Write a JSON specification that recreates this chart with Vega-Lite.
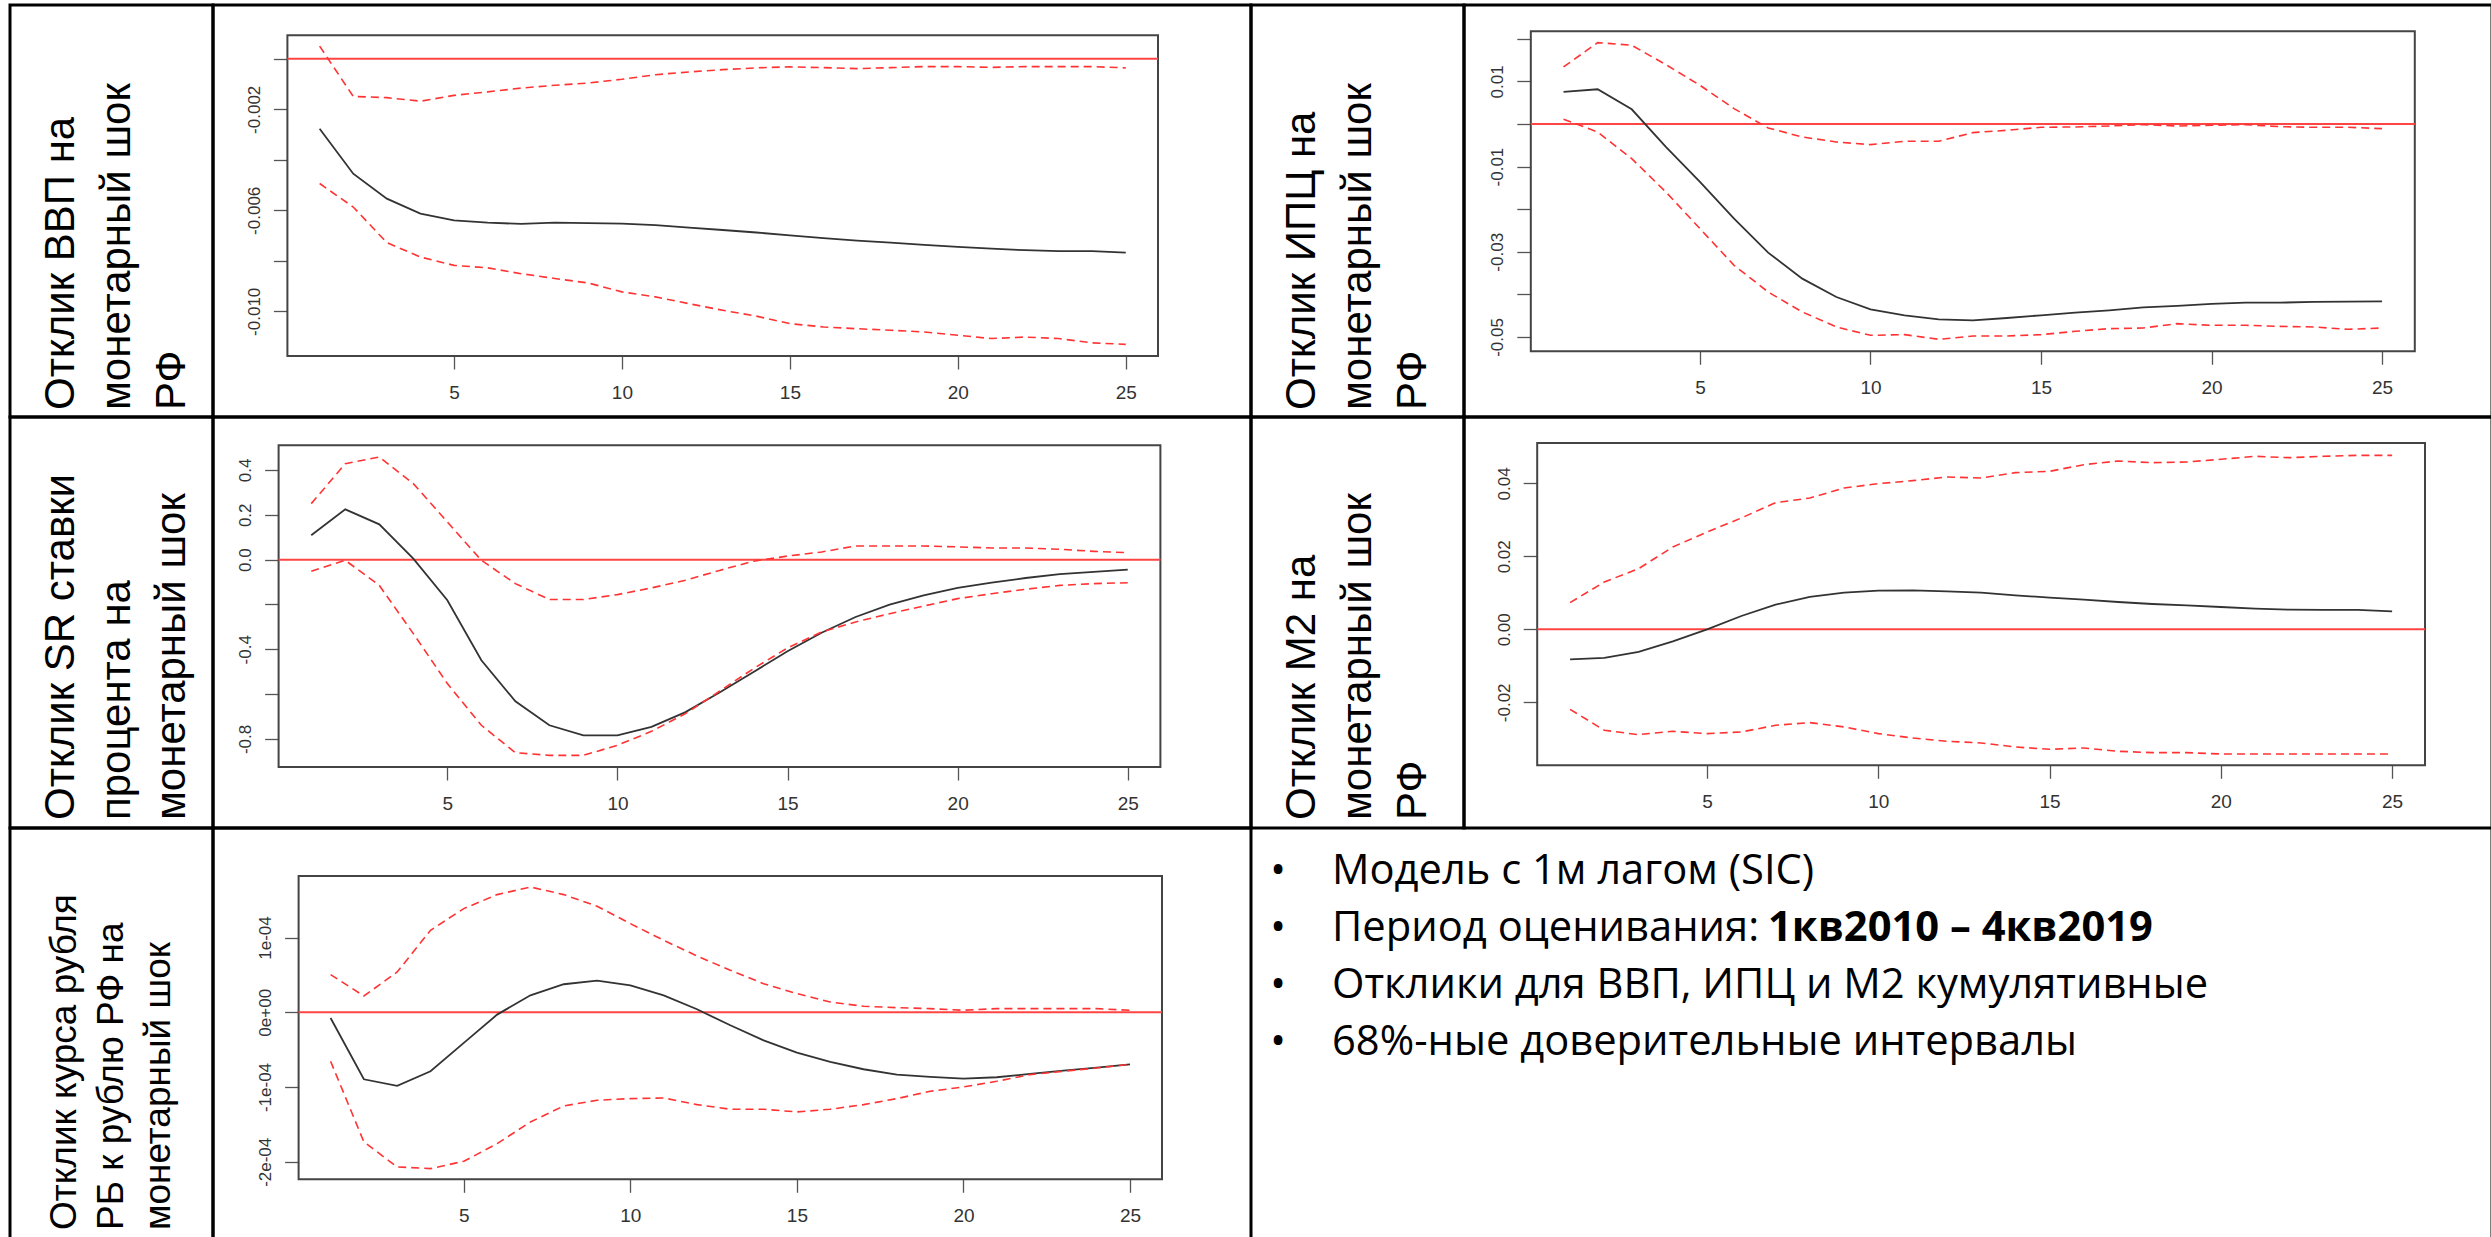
{
  "$schema": "https://vega.github.io/schema/vega-lite/v6.json",
  "padding": {"left": 8, "top": 3, "right": 1, "bottom": 0},
  "bounds": "flush",
  "spacing": 0,
  "columns": 4,
  "background": "#ffffff",
  "config": {
    "view": {"stroke": "#000000", "strokeWidth": 3},
    "axis": {"grid": false, "domain": false, "labelFont": "Liberation Sans", "labelColor": "#333333", "tickColor": "#555555", "tickWidth": 1.3, "labelOverlap": false, "labelFlush": false}
  },
  "resolve": {"scale": {"x": "independent", "y": "independent"}, "axis": {"x": "independent", "y": "independent"}},
  "concat": [
    {
      "width": 203, "height": 412,
      "data": {"values": [{"line": 1, "text": "Отклик ВВП на"}, {"line": 2, "text": "монетарный шок"}, {"line": 3, "text": "РФ"}]},
      "mark": {"type": "text", "angle": 270, "align": "left", "baseline": "alphabetic", "font": "Liberation Sans", "fontSize": 42, "color": "#000000"},
      "encoding": {
        "x": {"field": "line", "type": "quantitative", "scale": {"domain": [1, 3], "range": [64, 175]}, "axis": null},
        "y": {"datum": 0, "type": "quantitative", "scale": {"domain": [0, 1], "range": [405, 0]}, "axis": null},
        "text": {"field": "text"}
      }
    },
    {
      "width": 1038, "height": 412,
      "data": {"values": [
        {"h": 1, "irf": -0.00277, "hi": 0.0005, "lo": -0.00494},
        {"h": 2, "irf": -0.00455, "hi": -0.00149, "lo": -0.00587},
        {"h": 3, "irf": -0.00554, "hi": -0.00154, "lo": -0.00728},
        {"h": 4, "irf": -0.00613, "hi": -0.00168, "lo": -0.00785},
        {"h": 5, "irf": -0.0064, "hi": -0.00145, "lo": -0.00818},
        {"h": 6, "irf": -0.00649, "hi": -0.00131, "lo": -0.00828},
        {"h": 7, "irf": -0.00654, "hi": -0.00116, "lo": -0.00851},
        {"h": 8, "irf": -0.00649, "hi": -0.00105, "lo": -0.0087},
        {"h": 9, "irf": -0.00651, "hi": -0.00096, "lo": -0.00888},
        {"h": 10, "irf": -0.00653, "hi": -0.00081, "lo": -0.00923},
        {"h": 11, "irf": -0.00659, "hi": -0.00063, "lo": -0.00943},
        {"h": 12, "irf": -0.00669, "hi": -0.00052, "lo": -0.0097},
        {"h": 13, "irf": -0.00678, "hi": -0.00043, "lo": -0.00996},
        {"h": 14, "irf": -0.00688, "hi": -0.00036, "lo": -0.01019},
        {"h": 15, "irf": -0.00699, "hi": -0.00032, "lo": -0.01049},
        {"h": 16, "irf": -0.0071, "hi": -0.00035, "lo": -0.01062},
        {"h": 17, "irf": -0.0072, "hi": -0.00039, "lo": -0.01069},
        {"h": 18, "irf": -0.00728, "hi": -0.00035, "lo": -0.01075},
        {"h": 19, "irf": -0.00737, "hi": -0.00031, "lo": -0.01082},
        {"h": 20, "irf": -0.00745, "hi": -0.00031, "lo": -0.01095},
        {"h": 21, "irf": -0.00752, "hi": -0.00034, "lo": -0.01108},
        {"h": 22, "irf": -0.00758, "hi": -0.00031, "lo": -0.01102},
        {"h": 23, "irf": -0.00762, "hi": -0.00031, "lo": -0.01108},
        {"h": 24, "irf": -0.00762, "hi": -0.00031, "lo": -0.01125},
        {"h": 25, "irf": -0.00768, "hi": -0.00036, "lo": -0.01131}
      ]},
      "layer": [
        {
          "data": {"values": [{}]},
          "mark": {"type": "rect", "fill": "#ffffff", "fillOpacity": 0, "stroke": "#444444", "strokeWidth": 2},
          "encoding": {
            "x": {"datum": 0.04, "type": "quantitative", "title": null, "scale": {"domain": [-2.1751, 28.7288], "nice": false, "zero": false}, "axis": {"values": [5, 10, 15, 20, 25], "offset": -61, "tickSize": 13, "labelPadding": 14, "labelFontSize": 19, "format": "d", "title": null}},
            "x2": {"datum": 25.96},
            "y": {"datum": 0.00093, "type": "quantitative", "title": null, "scale": {"domain": [-0.014186, 0.00213], "nice": false, "zero": false}, "axis": {"values": [0, -0.002, -0.004, -0.006, -0.008, -0.01], "offset": -74.4, "tickSize": 14, "labelPadding": 14, "labelFontSize": 17, "labelAngle": -90, "labelAlign": "center", "labelBaseline": "alphabetic", "title": null, "labelExpr": "round(datum.value*1000)==-2 ? '-0.002' : round(datum.value*1000)==-6 ? '-0.006' : round(datum.value*1000)==-10 ? '-0.010' : ''"}},
            "y2": {"datum": -0.01177}
          }
        },
        {
          "data": {"values": [{}]},
          "mark": {"type": "rule", "color": "#ff4444", "strokeWidth": 2},
          "encoding": {"x": {"datum": 0.04, "type": "quantitative", "title": null}, "x2": {"datum": 25.96}, "y": {"datum": 0, "type": "quantitative", "title": null}}
        },
        {"mark": {"type": "line", "color": "#ff3333", "strokeWidth": 1.6, "strokeDash": [8, 5]}, "encoding": {"x": {"field": "h", "type": "quantitative", "title": null}, "y": {"field": "hi", "type": "quantitative", "title": null}}},
        {"mark": {"type": "line", "color": "#ff3333", "strokeWidth": 1.6, "strokeDash": [8, 5]}, "encoding": {"x": {"field": "h", "type": "quantitative", "title": null}, "y": {"field": "lo", "type": "quantitative", "title": null}}},
        {"mark": {"type": "line", "color": "#333333", "strokeWidth": 1.8}, "encoding": {"x": {"field": "h", "type": "quantitative", "title": null}, "y": {"field": "irf", "type": "quantitative", "title": null}}}
      ]
    },
    {
      "width": 213, "height": 412,
      "data": {"values": [{"line": 1, "text": "Отклик ИПЦ на"}, {"line": 2, "text": "монетарный шок"}, {"line": 3, "text": "РФ"}]},
      "mark": {"type": "text", "angle": 270, "align": "left", "baseline": "alphabetic", "font": "Liberation Sans", "fontSize": 42, "color": "#000000"},
      "encoding": {
        "x": {"field": "line", "type": "quantitative", "scale": {"domain": [1, 3], "range": [64, 175]}, "axis": null},
        "y": {"datum": 0, "type": "quantitative", "scale": {"domain": [0, 1], "range": [405, 0]}, "axis": null},
        "text": {"field": "text"}
      }
    },
    {
      "width": 1028, "height": 412,
      "data": {"values": [
        {"h": 1, "irf": 0.00751, "hi": 0.01338, "lo": 0.0011},
        {"h": 2, "irf": 0.00814, "hi": 0.01909, "lo": -0.00188},
        {"h": 3, "irf": 0.00344, "hi": 0.01847, "lo": -0.00814},
        {"h": 4, "irf": -0.0054, "hi": 0.01393, "lo": -0.01596},
        {"h": 5, "irf": -0.01362, "hi": 0.00908, "lo": -0.02457},
        {"h": 6, "irf": -0.02222, "hi": 0.0036, "lo": -0.03318},
        {"h": 7, "irf": -0.0302, "hi": -0.00094, "lo": -0.03944},
        {"h": 8, "irf": -0.03631, "hi": -0.00305, "lo": -0.04413},
        {"h": 9, "irf": -0.04061, "hi": -0.00423, "lo": -0.04765},
        {"h": 10, "irf": -0.0435, "hi": -0.00485, "lo": -0.04961},
        {"h": 11, "irf": -0.04491, "hi": -0.00407, "lo": -0.04945},
        {"h": 12, "irf": -0.04585, "hi": -0.00407, "lo": -0.05055},
        {"h": 13, "irf": -0.04609, "hi": -0.00203, "lo": -0.04977},
        {"h": 14, "irf": -0.04554, "hi": -0.00149, "lo": -0.04977},
        {"h": 15, "irf": -0.04491, "hi": -0.00078, "lo": -0.04945},
        {"h": 16, "irf": -0.04429, "hi": -0.0007, "lo": -0.04867},
        {"h": 17, "irf": -0.04374, "hi": -0.00047, "lo": -0.04804},
        {"h": 18, "irf": -0.04304, "hi": -0.00016, "lo": -0.04789},
        {"h": 19, "irf": -0.04272, "hi": -0.00047, "lo": -0.04687},
        {"h": 20, "irf": -0.04225, "hi": -0.00031, "lo": -0.04726},
        {"h": 21, "irf": -0.04194, "hi": -0.00016, "lo": -0.04726},
        {"h": 22, "irf": -0.04194, "hi": -0.00063, "lo": -0.0475},
        {"h": 23, "irf": -0.04178, "hi": -0.00078, "lo": -0.04765},
        {"h": 24, "irf": -0.0417, "hi": -0.00078, "lo": -0.0482},
        {"h": 25, "irf": -0.04163, "hi": -0.0011, "lo": -0.04789}
      ]},
      "layer": [
        {
          "data": {"values": [{}]},
          "mark": {"type": "rect", "fill": "#ffffff", "fillOpacity": 0, "stroke": "#444444", "strokeWidth": 2},
          "encoding": {
            "x": {"datum": 0.04, "type": "quantitative", "title": null, "scale": {"domain": [-1.9187, 28.2236], "nice": false, "zero": false}, "axis": {"values": [5, 10, 15, 20, 25], "offset": -65.7, "tickSize": 13, "labelPadding": 14, "labelFontSize": 19, "format": "d", "title": null}},
            "x2": {"datum": 25.96},
            "y": {"datum": 0.02175, "type": "quantitative", "title": null, "scale": {"domain": [-0.068781, 0.027923], "nice": false, "zero": false}, "axis": {"values": [0.02, 0.01, 0, -0.01, -0.02, -0.03, -0.04, -0.05], "offset": -66.8, "tickSize": 14, "labelPadding": 14, "labelFontSize": 17, "labelAngle": -90, "labelAlign": "center", "labelBaseline": "alphabetic", "title": null, "labelExpr": "round(datum.value*100)==1 ? '0.01' : round(datum.value*100)==-1 ? '-0.01' : round(datum.value*100)==-3 ? '-0.03' : round(datum.value*100)==-5 ? '-0.05' : ''"}},
            "y2": {"datum": -0.05336}
          }
        },
        {
          "data": {"values": [{}]},
          "mark": {"type": "rule", "color": "#ff4444", "strokeWidth": 2},
          "encoding": {"x": {"datum": 0.04, "type": "quantitative", "title": null}, "x2": {"datum": 25.96}, "y": {"datum": 0, "type": "quantitative", "title": null}}
        },
        {"mark": {"type": "line", "color": "#ff3333", "strokeWidth": 1.6, "strokeDash": [8, 5]}, "encoding": {"x": {"field": "h", "type": "quantitative", "title": null}, "y": {"field": "hi", "type": "quantitative", "title": null}}},
        {"mark": {"type": "line", "color": "#ff3333", "strokeWidth": 1.6, "strokeDash": [8, 5]}, "encoding": {"x": {"field": "h", "type": "quantitative", "title": null}, "y": {"field": "lo", "type": "quantitative", "title": null}}},
        {"mark": {"type": "line", "color": "#333333", "strokeWidth": 1.8}, "encoding": {"x": {"field": "h", "type": "quantitative", "title": null}, "y": {"field": "irf", "type": "quantitative", "title": null}}}
      ]
    },
    {
      "width": 203, "height": 411,
      "data": {"values": [{"line": 1, "text": "Отклик SR ставки"}, {"line": 2, "text": "процента на"}, {"line": 3, "text": "монетарный шок"}]},
      "mark": {"type": "text", "angle": 270, "align": "left", "baseline": "alphabetic", "font": "Liberation Sans", "fontSize": 42, "color": "#000000"},
      "encoding": {
        "x": {"field": "line", "type": "quantitative", "scale": {"domain": [1, 3], "range": [64, 175]}, "axis": null},
        "y": {"datum": 0, "type": "quantitative", "scale": {"domain": [0, 1], "range": [403, 0]}, "axis": null},
        "text": {"field": "text"}
      }
    },
    {
      "width": 1038, "height": 411,
      "data": {"values": [
        {"h": 1, "irf": 0.1086, "hi": 0.2498, "lo": -0.052},
        {"h": 2, "irf": 0.2245, "hi": 0.428, "lo": -0.003},
        {"h": 3, "irf": 0.1576, "hi": 0.458, "lo": -0.115},
        {"h": 4, "irf": 0.0045, "hi": 0.339, "lo": -0.33},
        {"h": 5, "irf": -0.1814, "hi": 0.168, "lo": -0.553},
        {"h": 6, "irf": -0.449, "hi": -0.003, "lo": -0.739},
        {"h": 7, "irf": -0.632, "hi": -0.107, "lo": -0.861},
        {"h": 8, "irf": -0.739, "hi": -0.178, "lo": -0.873},
        {"h": 9, "irf": -0.784, "hi": -0.178, "lo": -0.873},
        {"h": 10, "irf": -0.784, "hi": -0.156, "lo": -0.828},
        {"h": 11, "irf": -0.746, "hi": -0.126, "lo": -0.766},
        {"h": 12, "irf": -0.68, "hi": -0.092, "lo": -0.687},
        {"h": 13, "irf": -0.593, "hi": -0.048, "lo": -0.587},
        {"h": 14, "irf": -0.501, "hi": -0.007, "lo": -0.486},
        {"h": 15, "irf": -0.409, "hi": 0.016, "lo": -0.394},
        {"h": 16, "irf": -0.326, "hi": 0.034, "lo": -0.323},
        {"h": 17, "irf": -0.256, "hi": 0.061, "lo": -0.278},
        {"h": 18, "irf": -0.201, "hi": 0.061, "lo": -0.241},
        {"h": 19, "irf": -0.159, "hi": 0.061, "lo": -0.207},
        {"h": 20, "irf": -0.126, "hi": 0.057, "lo": -0.174},
        {"h": 21, "irf": -0.103, "hi": 0.052, "lo": -0.152},
        {"h": 22, "irf": -0.082, "hi": 0.052, "lo": -0.132},
        {"h": 23, "irf": -0.065, "hi": 0.046, "lo": -0.115},
        {"h": 24, "irf": -0.055, "hi": 0.037, "lo": -0.107},
        {"h": 25, "irf": -0.045, "hi": 0.031, "lo": -0.103}
      ]},
      "layer": [
        {
          "data": {"values": [{}]},
          "mark": {"type": "rect", "fill": "#ffffff", "fillOpacity": 0, "stroke": "#444444", "strokeWidth": 2},
          "encoding": {
            "x": {"datum": 0.04, "type": "quantitative", "title": null, "scale": {"domain": [-1.8883, 28.6232], "nice": false, "zero": false}, "axis": {"values": [5, 10, 15, 20, 25], "offset": -61, "tickSize": 13, "labelPadding": 14, "labelFontSize": 19, "format": "d", "title": null}},
            "x2": {"datum": 25.96},
            "y": {"datum": 0.51, "type": "quantitative", "title": null, "scale": {"domain": [-1.1971, 0.63624], "nice": false, "zero": false}, "axis": {"values": [0.4, 0.2, 0, -0.2, -0.4, -0.6, -0.8], "offset": -65.6, "tickSize": 14, "labelPadding": 14, "labelFontSize": 17, "labelAngle": -90, "labelAlign": "center", "labelBaseline": "alphabetic", "title": null, "labelExpr": "round(datum.value*10)==4 ? '0.4' : round(datum.value*10)==2 ? '0.2' : round(datum.value*10)==0 ? '0.0' : round(datum.value*10)==-4 ? '-0.4' : round(datum.value*10)==-8 ? '-0.8' : ''"}},
            "y2": {"datum": -0.925}
          }
        },
        {
          "data": {"values": [{}]},
          "mark": {"type": "rule", "color": "#ff4444", "strokeWidth": 2},
          "encoding": {"x": {"datum": 0.04, "type": "quantitative", "title": null}, "x2": {"datum": 25.96}, "y": {"datum": 0, "type": "quantitative", "title": null}}
        },
        {"mark": {"type": "line", "color": "#ff3333", "strokeWidth": 1.6, "strokeDash": [8, 5]}, "encoding": {"x": {"field": "h", "type": "quantitative", "title": null}, "y": {"field": "hi", "type": "quantitative", "title": null}}},
        {"mark": {"type": "line", "color": "#333333", "strokeWidth": 1.8}, "encoding": {"x": {"field": "h", "type": "quantitative", "title": null}, "y": {"field": "irf", "type": "quantitative", "title": null}}},
        {"mark": {"type": "line", "color": "#ff3333", "strokeWidth": 1.6, "strokeDash": [8, 5]}, "encoding": {"x": {"field": "h", "type": "quantitative", "title": null}, "y": {"field": "lo", "type": "quantitative", "title": null}}}
      ]
    },
    {
      "width": 213, "height": 411,
      "data": {"values": [{"line": 1, "text": "Отклик М2 на"}, {"line": 2, "text": "монетарный шок"}, {"line": 3, "text": "РФ"}]},
      "mark": {"type": "text", "angle": 270, "align": "left", "baseline": "alphabetic", "font": "Liberation Sans", "fontSize": 42, "color": "#000000"},
      "encoding": {
        "x": {"field": "line", "type": "quantitative", "scale": {"domain": [1, 3], "range": [64, 175]}, "axis": null},
        "y": {"datum": 0, "type": "quantitative", "scale": {"domain": [0, 1], "range": [403, 0]}, "axis": null},
        "text": {"field": "text"}
      }
    },
    {
      "width": 1028, "height": 411,
      "data": {"values": [
        {"h": 1, "irf": -0.00822, "hi": 0.00731, "lo": -0.02192},
        {"h": 2, "irf": -0.00785, "hi": 0.01297, "lo": -0.02767},
        {"h": 3, "irf": -0.00621, "hi": 0.01662, "lo": -0.02886},
        {"h": 4, "irf": -0.00329, "hi": 0.02256, "lo": -0.02795},
        {"h": 5, "irf": 0.0, "hi": 0.02667, "lo": -0.02858},
        {"h": 6, "irf": 0.00365, "hi": 0.0305, "lo": -0.02813},
        {"h": 7, "irf": 0.00676, "hi": 0.0347, "lo": -0.0263},
        {"h": 8, "irf": 0.00886, "hi": 0.03598, "lo": -0.02557},
        {"h": 9, "irf": 0.01005, "hi": 0.03872, "lo": -0.02676},
        {"h": 10, "irf": 0.01059, "hi": 0.03991, "lo": -0.02858},
        {"h": 11, "irf": 0.01068, "hi": 0.04073, "lo": -0.02977},
        {"h": 12, "irf": 0.01041, "hi": 0.04174, "lo": -0.03068},
        {"h": 13, "irf": 0.01005, "hi": 0.04146, "lo": -0.03114},
        {"h": 14, "irf": 0.00932, "hi": 0.04292, "lo": -0.03224},
        {"h": 15, "irf": 0.00868, "hi": 0.04329, "lo": -0.03288},
        {"h": 16, "irf": 0.00813, "hi": 0.04511, "lo": -0.03251},
        {"h": 17, "irf": 0.00749, "hi": 0.04612, "lo": -0.03342},
        {"h": 18, "irf": 0.00694, "hi": 0.04566, "lo": -0.03379},
        {"h": 19, "irf": 0.00658, "hi": 0.04584, "lo": -0.03379},
        {"h": 20, "irf": 0.00612, "hi": 0.04658, "lo": -0.03416},
        {"h": 21, "irf": 0.00566, "hi": 0.0474, "lo": -0.03416},
        {"h": 22, "irf": 0.00539, "hi": 0.04703, "lo": -0.03416},
        {"h": 23, "irf": 0.0053, "hi": 0.0474, "lo": -0.03416},
        {"h": 24, "irf": 0.0053, "hi": 0.04767, "lo": -0.03416},
        {"h": 25, "irf": 0.00493, "hi": 0.04767, "lo": -0.03416}
      ]},
      "layer": [
        {
          "data": {"values": [{}]},
          "mark": {"type": "rect", "fill": "#ffffff", "fillOpacity": 0, "stroke": "#444444", "strokeWidth": 2},
          "encoding": {
            "x": {"datum": 0.04, "type": "quantitative", "title": null, "scale": {"domain": [-2.0971, 27.9161], "nice": false, "zero": false}, "axis": {"values": [5, 10, 15, 20, 25], "offset": -62.7, "tickSize": 13, "labelPadding": 14, "labelFontSize": 19, "format": "d", "title": null}},
            "x2": {"datum": 25.96},
            "y": {"datum": 0.05105, "type": "quantitative", "title": null, "scale": {"domain": [-0.05444, 0.058174], "nice": false, "zero": false}, "axis": {"values": [0.04, 0.02, 0, -0.02], "offset": -73.2, "tickSize": 14, "labelPadding": 14, "labelFontSize": 17, "labelAngle": -90, "labelAlign": "center", "labelBaseline": "alphabetic", "title": null, "labelExpr": "round(datum.value*100)==4 ? '0.04' : round(datum.value*100)==2 ? '0.02' : round(datum.value*100)==0 ? '0.00' : round(datum.value*100)==-2 ? '-0.02' : ''"}},
            "y2": {"datum": -0.03726}
          }
        },
        {
          "data": {"values": [{}]},
          "mark": {"type": "rule", "color": "#ff4444", "strokeWidth": 2},
          "encoding": {"x": {"datum": 0.04, "type": "quantitative", "title": null}, "x2": {"datum": 25.96}, "y": {"datum": 0, "type": "quantitative", "title": null}}
        },
        {"mark": {"type": "line", "color": "#ff3333", "strokeWidth": 1.6, "strokeDash": [8, 5]}, "encoding": {"x": {"field": "h", "type": "quantitative", "title": null}, "y": {"field": "hi", "type": "quantitative", "title": null}}},
        {"mark": {"type": "line", "color": "#ff3333", "strokeWidth": 1.6, "strokeDash": [8, 5]}, "encoding": {"x": {"field": "h", "type": "quantitative", "title": null}, "y": {"field": "lo", "type": "quantitative", "title": null}}},
        {"mark": {"type": "line", "color": "#333333", "strokeWidth": 1.8}, "encoding": {"x": {"field": "h", "type": "quantitative", "title": null}, "y": {"field": "irf", "type": "quantitative", "title": null}}}
      ]
    },
    {
      "width": 203, "height": 411,
      "data": {"values": [{"line": 1, "text": "Отклик курса рубля"}, {"line": 2, "text": "РБ к рублю РФ на"}, {"line": 3, "text": "монетарный шок"}]},
      "mark": {"type": "text", "angle": 270, "align": "left", "baseline": "alphabetic", "font": "Liberation Sans", "fontSize": 37, "color": "#000000"},
      "encoding": {
        "x": {"field": "line", "type": "quantitative", "scale": {"domain": [1, 3], "range": [66, 160]}, "axis": null},
        "y": {"datum": 0, "type": "quantitative", "scale": {"domain": [0, 1], "range": [402, 0]}, "axis": null},
        "text": {"field": "text"}
      }
    },
    {
      "width": 1038, "height": 411,
      "data": {"values": [
        {"h": 1, "irf": -7.6e-6, "hi": 5.04e-5, "lo": -6.55e-5},
        {"h": 2, "irf": -8.96e-5, "hi": 2.18e-5, "lo": -1.734e-4},
        {"h": 3, "irf": -9.85e-5, "hi": 5.39e-5, "lo": -2.069e-4},
        {"h": 4, "irf": -7.89e-5, "hi": 1.097e-4, "lo": -2.091e-4},
        {"h": 5, "irf": -4.1e-5, "hi": 1.387e-4, "lo": -1.993e-4},
        {"h": 6, "irf": -3.1e-6, "hi": 1.574e-4, "lo": -1.757e-4},
        {"h": 7, "irf": 2.27e-5, "hi": 1.676e-4, "lo": -1.467e-4},
        {"h": 8, "irf": 3.75e-5, "hi": 1.574e-4, "lo": -1.253e-4},
        {"h": 9, "irf": 4.24e-5, "hi": 1.418e-4, "lo": -1.177e-4},
        {"h": 10, "irf": 3.61e-5, "hi": 1.186e-4, "lo": -1.155e-4},
        {"h": 11, "irf": 2.27e-5, "hi": 9.63e-5, "lo": -1.146e-4},
        {"h": 12, "irf": 4.0e-6, "hi": 7.53e-5, "lo": -1.235e-4},
        {"h": 13, "irf": -1.74e-5, "hi": 5.62e-5, "lo": -1.297e-4},
        {"h": 14, "irf": -3.75e-5, "hi": 3.83e-5, "lo": -1.297e-4},
        {"h": 15, "irf": -5.39e-5, "hi": 2.5e-5, "lo": -1.333e-4},
        {"h": 16, "irf": -6.64e-5, "hi": 1.38e-5, "lo": -1.297e-4},
        {"h": 17, "irf": -7.62e-5, "hi": 8.0e-6, "lo": -1.235e-4},
        {"h": 18, "irf": -8.34e-5, "hi": 6.2e-6, "lo": -1.155e-4},
        {"h": 19, "irf": -8.65e-5, "hi": 4.9e-6, "lo": -1.057e-4},
        {"h": 20, "irf": -8.87e-5, "hi": 2.7e-6, "lo": -9.99e-5},
        {"h": 21, "irf": -8.69e-5, "hi": 4.9e-6, "lo": -9.23e-5},
        {"h": 22, "irf": -8.25e-5, "hi": 4.9e-6, "lo": -8.34e-5},
        {"h": 23, "irf": -7.8e-5, "hi": 4.9e-6, "lo": -7.89e-5},
        {"h": 24, "irf": -7.4e-5, "hi": 4.9e-6, "lo": -7.45e-5},
        {"h": 25, "irf": -6.96e-5, "hi": 2.7e-6, "lo": -6.96e-5}
      ]},
      "layer": [
        {
          "data": {"values": [{}]},
          "mark": {"type": "rect", "fill": "#ffffff", "fillOpacity": 0, "stroke": "#444444", "strokeWidth": 2},
          "encoding": {
            "x": {"datum": 0.04, "type": "quantitative", "title": null, "scale": {"domain": [-2.5298, 28.6319], "nice": false, "zero": false}, "axis": {"values": [5, 10, 15, 20, 25], "offset": -59.7, "tickSize": 13, "labelPadding": 14, "labelFontSize": 19, "format": "d", "title": null}},
            "x2": {"datum": 25.96},
            "y": {"datum": 1.823e-4, "type": "quantitative", "title": null, "scale": {"domain": [-3.0326e-4, 2.465e-4], "nice": false, "zero": false}, "axis": {"values": [1e-4, 0, -1e-4, -2e-4], "offset": -85.6, "tickSize": 14, "labelPadding": 14, "labelFontSize": 17, "labelAngle": -90, "labelAlign": "center", "labelBaseline": "alphabetic", "title": null, "labelExpr": "round(datum.value*10000)==1 ? '1e-04' : round(datum.value*10000)==0 ? '0e+00' : round(datum.value*10000)==-1 ? '-1e-04' : round(datum.value*10000)==-2 ? '-2e-04' : ''"}},
            "y2": {"datum": -2.234e-4}
          }
        },
        {
          "data": {"values": [{}]},
          "mark": {"type": "rule", "color": "#ff4444", "strokeWidth": 2},
          "encoding": {"x": {"datum": 0.04, "type": "quantitative", "title": null}, "x2": {"datum": 25.96}, "y": {"datum": 0, "type": "quantitative", "title": null}}
        },
        {"mark": {"type": "line", "color": "#ff3333", "strokeWidth": 1.6, "strokeDash": [8, 5]}, "encoding": {"x": {"field": "h", "type": "quantitative", "title": null}, "y": {"field": "hi", "type": "quantitative", "title": null}}},
        {"mark": {"type": "line", "color": "#333333", "strokeWidth": 1.8}, "encoding": {"x": {"field": "h", "type": "quantitative", "title": null}, "y": {"field": "irf", "type": "quantitative", "title": null}}},
        {"mark": {"type": "line", "color": "#ff3333", "strokeWidth": 1.6, "strokeDash": [8, 5]}, "encoding": {"x": {"field": "h", "type": "quantitative", "title": null}, "y": {"field": "lo", "type": "quantitative", "title": null}}}
      ]
    },
    {
      "width": 213, "height": 411,
      "view": {"stroke": null},
      "data": {"values": [
        {"line": 1, "text": "Модель с 1м лагом (SIC)", "bold": ""},
        {"line": 2, "text": "Период оценивания: ", "bold": "1кв2010 – 4кв2019"},
        {"line": 3, "text": "Отклики для ВВП, ИПЦ и М2 кумулятивные", "bold": ""},
        {"line": 4, "text": "68%-ные доверительные интервалы", "bold": ""}
      ]},
      "layer": [
        {
          "mark": {"type": "text", "text": "•", "align": "center", "baseline": "alphabetic", "font": "Open Sans", "fontSize": 41.7, "color": "#000000"},
          "encoding": {
            "x": {"datum": 0, "type": "quantitative", "scale": {"domain": [0, 1], "range": [27, 81]}, "axis": null},
            "y": {"field": "line", "type": "quantitative", "scale": {"domain": [1, 4], "range": [56, 227]}, "axis": null}
          }
        },
        {
          "mark": {"type": "text", "align": "left", "baseline": "alphabetic", "font": "Open Sans", "fontSize": 41.7, "color": "#000000"},
          "encoding": {
            "x": {"datum": 1, "type": "quantitative"},
            "y": {"field": "line", "type": "quantitative"},
            "text": {"field": "text"}
          }
        },
        {
          "mark": {"type": "text", "align": "left", "baseline": "alphabetic", "font": "Open Sans", "fontSize": 41.7, "fontWeight": "bold", "color": "#000000", "dx": 436},
          "encoding": {
            "x": {"datum": 1, "type": "quantitative"},
            "y": {"field": "line", "type": "quantitative"},
            "text": {"field": "bold"}
          }
        }
      ]
    },
    {
      "width": 1028, "height": 411,
      "view": {"stroke": null},
      "data": {"values": [{}]},
      "mark": {"type": "rule", "color": "#000000", "strokeWidth": 3},
      "encoding": {
        "x": {"datum": 1, "type": "quantitative", "scale": {"domain": [0, 1]}, "axis": null},
        "y": {"datum": 0, "type": "quantitative", "scale": {"domain": [0, 1]}, "axis": null},
        "y2": {"datum": 1}
      }
    }
  ]
}
